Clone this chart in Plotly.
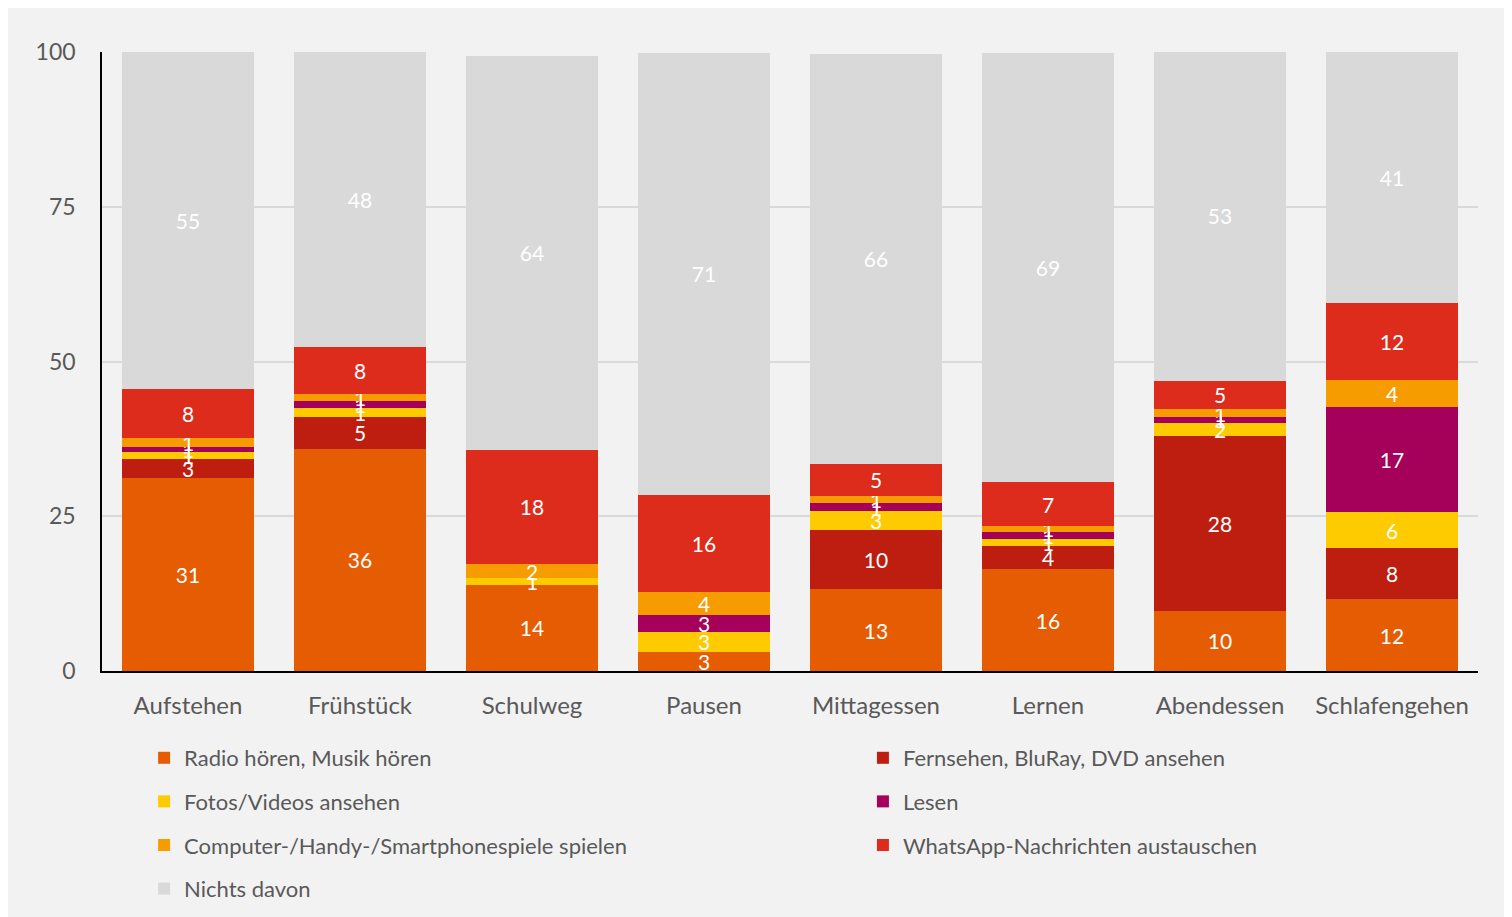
import plotly.graph_objects as go

categories = ["Aufstehen", "Frühstück", "Schulweg", "Pausen",
              "Mittagessen", "Lernen", "Abendessen", "Schlafengehen"]

radio = [31.2, 35.9, 13.9, 3.1, 13.2, 16.4, 9.7, 11.6]
fernsehen = [3.1, 5.2, 0, 0, 9.6, 3.8, 28.3, 8.2]
fotos = [1.0, 1.4, 1.1, 3.2, 3.0, 1.2, 2.1, 5.9]
lesen = [0.9, 1.2, 0, 2.8, 1.3, 1.1, 0.9, 16.9]
computer = [1.4, 1.0, 2.3, 3.7, 1.2, 0.9, 1.3, 4.4]
whatsapp = [7.9, 7.6, 18.4, 15.7, 5.2, 7.1, 4.6, 12.4]
nichts = [54.6, 47.7, 63.7, 71.3, 66.2, 69.3, 53.4, 40.7]

y_ticks = [0, 25, 50, 75, 100]

# name, values, colour, legend column
series = [
    ("Radio hören, Musik hören", radio, "#E65C03", "legend"),
    ("Fernsehen, BluRay, DVD ansehen", fernsehen, "#BE1E10", "legend2"),
    ("Fotos/Videos ansehen", fotos, "#FECB00", "legend"),
    ("Lesen", lesen, "#A5005A", "legend2"),
    ("Computer-/Handy-/Smartphonespiele spielen", computer, "#F79C00", "legend"),
    ("WhatsApp-Nachrichten austauschen", whatsapp, "#DE2C1C", "legend2"),
    ("Nichts davon", nichts, "#D9D9D9", "legend"),
]

FONT = "Lato"
GREY_TXT = "#595959"

fig = go.Figure()

for i, (name, vals, color, leg) in enumerate(series):
    fig.add_trace(go.Bar(
        x=categories,
        y=vals,
        name=name,
        marker=dict(color=color, line=dict(width=0)),
        text=[f"{v:.0f}" if v > 0 else "" for v in vals],
        textposition="inside",
        insidetextanchor="middle",
        textangle=0,
        constraintext="none",
        textfont=dict(color="white", size=21, family=FONT),
        legend=leg,
        legendgroup=f"g{i}",
        hoverinfo="skip",
    ))

legend_common = dict(
    orientation="v",
    yanchor="top",
    xanchor="left",
    y=-0.1066,
    font=dict(size=22, color=GREY_TXT, family=FONT),
    bgcolor="rgba(0,0,0,0)",
    tracegroupgap=12,
    itemclick=False,
)

# the page adds an 8px body margin, so the figure is 8px smaller than the window
fig.update_layout(
    width=1504,
    height=909,
    barmode="stack",
    bargap=0.227,
    paper_bgcolor="#F2F2F2",
    plot_bgcolor="#F2F2F2",
    margin=dict(l=94, r=34, t=44, b=246, autoexpand=False),
    font=dict(family=FONT, color=GREY_TXT),
    uniformtext=dict(minsize=21, mode="show"),
    showlegend=True,
    legend=dict(x=0.0306, **legend_common),
    legend2=dict(x=0.553, **legend_common),
    xaxis=dict(
        showline=True, linecolor="black", linewidth=1.5,
        ticks="", showgrid=False,
        tickfont=dict(size=24, color=GREY_TXT, family=FONT),
        ticklabelstandoff=12,
    ),
    yaxis=dict(
        range=[0, 100],
        tickvals=y_ticks,
        showline=True, linecolor="black", linewidth=1.5,
        showgrid=True, gridcolor="#D9D9D9", gridwidth=2,
        ticks="", zeroline=False,
        tickfont=dict(size=23, color=GREY_TXT, family=FONT),
        ticklabelstandoff=20,
    ),
)

fig.write_html("out.html")
